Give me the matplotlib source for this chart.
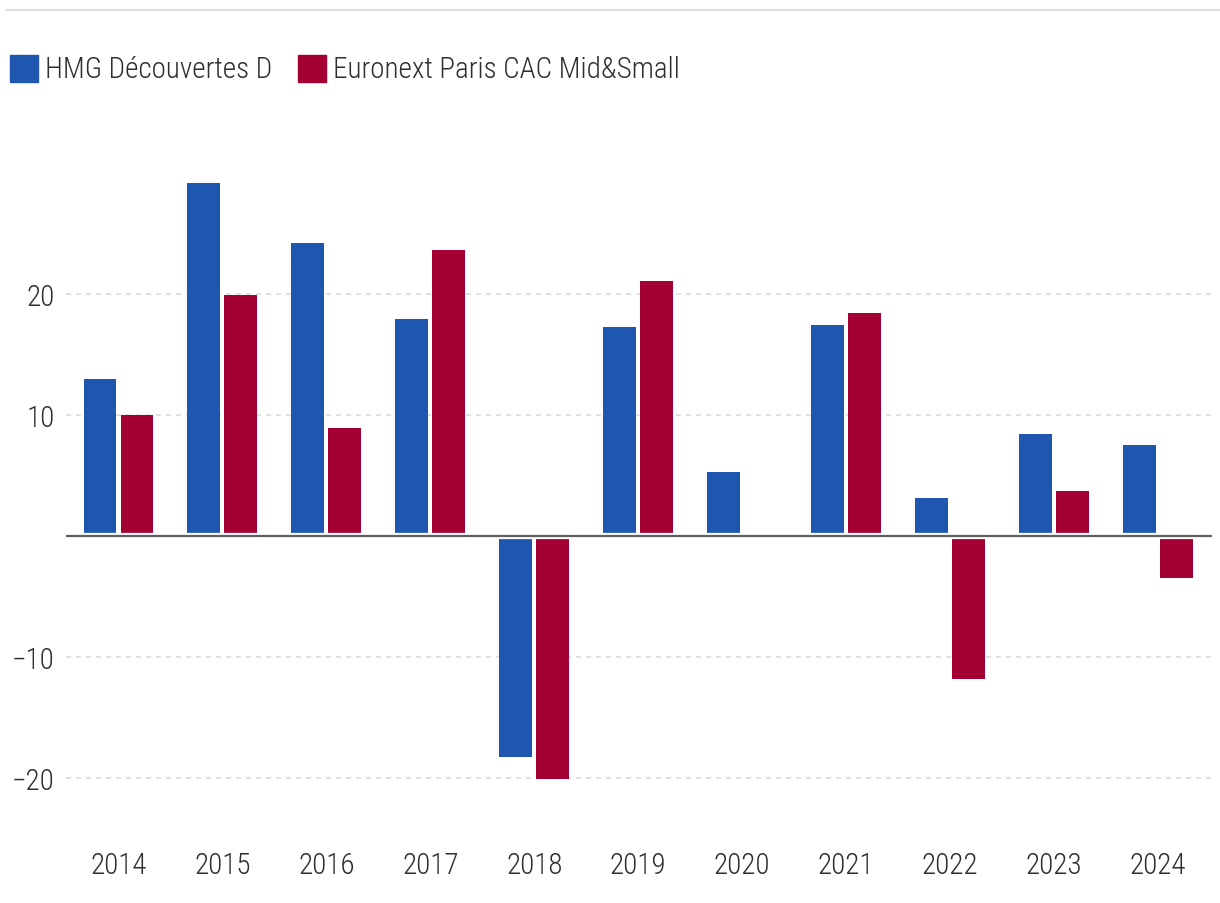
import matplotlib
matplotlib.use('Agg')
import matplotlib.pyplot as plt
import numpy as np
from matplotlib.patches import Rectangle

years = ['2014', '2015', '2016', '2017', '2018', '2019', '2020', '2021', '2022', '2023', '2024']
fund = [13.0, 29.2, 24.2, 17.9, -18.3, 17.3, 5.3, 17.4, 3.1, 8.4, 7.5]
index = [10.0, 19.9, 8.9, 23.6, -20.1, 21.1, 0.0, 18.4, -11.8, 3.7, -3.5]
series_names = ['HMG Découvertes D', 'Euronext Paris CAC Mid&Small']
yticks = [-20, -10, 10, 20]

BLUE = '#1F56AF'
RED = '#A50034'
TXT = '#2e2e2e'

plt.rcParams['font.family'] = ['Roboto Condensed', 'Roboto', 'DejaVu Sans']
plt.rcParams['font.stretch'] = 'condensed'
plt.rcParams['font.weight'] = 'light'

fig = plt.figure(figsize=(12.2, 9.04), dpi=100)
ax = fig.add_axes([0.0541, 0.1051, 0.9393, 0.7157])

x = np.arange(len(years))
w = 0.317
off = 0.178
ax.bar(x - off, fund, width=w, color=BLUE, zorder=2)
ax.bar(x + off, index, width=w, color=RED, zorder=2)

# zero line with white halo
ax.axhline(0, color='white', lw=4.5, zorder=3)
ax.axhline(0, color='#5f5f5f', lw=1.6, zorder=4)

for v in yticks:
    ax.axhline(v, color='#dcdcdc', lw=1.2, ls=(0, (3, 3)), zorder=1)

ax.set_xlim(-0.505, 10.52)
ax.set_ylim(-22.5, 31)
ax.set_xticks(x)
ax.set_xticklabels(years)
ax.set_yticks(yticks)
ax.set_yticklabels([f'{v}'.replace('-', '\u2212') for v in yticks])
ax.tick_params(axis='both', length=0, labelsize=21, labelcolor=TXT)
ax.tick_params(axis='x', pad=31)
ax.tick_params(axis='y', pad=8)
for s in ax.spines.values():
    s.set_visible(False)

# top rule
fig.add_artist(plt.Line2D([7 / 1220, 1.0], [1 - 11 / 904] * 2, color='#e0e0e0', lw=1.6))

# legend
leg_y = 1 - 83 / 904
fig.add_artist(Rectangle((10 / 1220, leg_y), 28 / 1220, 27 / 904, color=BLUE, transform=fig.transFigure))
fig.text(45 / 1220, leg_y + 13 / 904, series_names[0], fontsize=21, color=TXT, va='center')
fig.add_artist(Rectangle((298 / 1220, leg_y), 28 / 1220, 27 / 904, color=RED, transform=fig.transFigure))
fig.text(333 / 1220, leg_y + 13 / 904, series_names[1], fontsize=21, color=TXT, va='center')

fig.savefig('out.png', dpi=100, facecolor='white')
